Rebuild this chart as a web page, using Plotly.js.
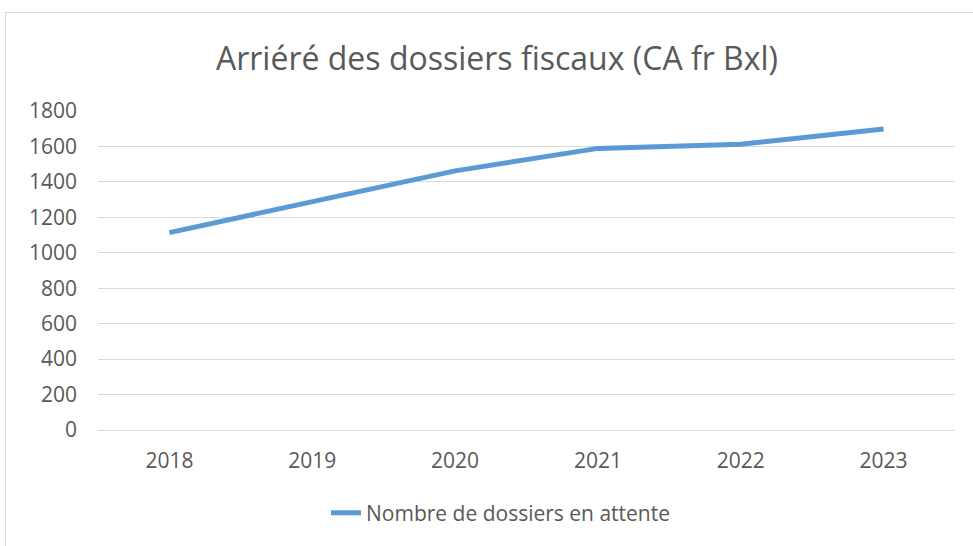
<!DOCTYPE html>
<html>
<head>
<meta charset="utf-8">
<script src="https://cdn.plot.ly/plotly-3.0.1.min.js"></script>
<style>
  html, body { margin: 0; padding: 0; background: #ffffff; }
  #wrap { position: relative; width: 973px; height: 546px; overflow: hidden; }
  #chart { position: absolute; left: 0; top: 0; width: 973px; height: 546px; }
  #frame { position: absolute; left: 5px; top: 12px; width: 1000px; height: 600px;
           border: 1px solid #d9d9d9; pointer-events: none; box-sizing: border-box; }
</style>
</head>
<body>
<div id="wrap">
  <div id="chart"></div>
  <div id="frame"></div>
</div>
<script>
const years = ['2018', '2019', '2020', '2021', '2022', '2023'];
const pendingCases = [1114, 1290, 1462, 1589, 1613, 1698];
const yTicks = [0, 200, 400, 600, 800, 1000, 1200, 1400, 1600, 1800];
const seriesName = 'Nombre de dossiers en attente';
const chartTitle = 'Arriéré des dossiers fiscaux (CA fr Bxl)';

const FONT = '"Open Sans", "Liberation Sans", sans-serif';
const TXT = '#595959';

const trace = {
  x: years,
  y: pendingCases,
  type: 'scatter',
  mode: 'lines',
  name: seriesName,
  line: { color: '#5B9BD5', width: 5 },
  hoverinfo: 'x+y'
};

const layout = {
  width: 973,
  height: 546,
  paper_bgcolor: 'rgba(0,0,0,0)',
  plot_bgcolor: '#ffffff',
  margin: { l: 98, r: 18, t: 111, b: 116, pad: 0 },
  title: {
    text: chartTitle,
    font: { family: FONT, size: 32, color: TXT },
    x: 497 / 973, xref: 'container', xanchor: 'center',
    y: 1 - 59 / 546, yref: 'container', yanchor: 'middle'
  },
  xaxis: {
    type: 'category',
    range: [-0.5, 5.5],
    showgrid: false,
    showline: true,
    linecolor: '#d9d9d9',
    linewidth: 1,
    ticks: '',
    ticklabelstandoff: 12,
    tickfont: { family: FONT, size: 21, color: TXT },
    fixedrange: true
  },
  yaxis: {
    range: [0, 1800],
    tickvals: yTicks,
    ticktext: yTicks.map(String),
    showgrid: true,
    gridcolor: '#d9d9d9',
    gridwidth: 1,
    zeroline: true,
    zerolinecolor: '#d9d9d9',
    zerolinewidth: 1,
    showline: false,
    ticks: '',
    ticklabelstandoff: 20,
    tickfont: { family: FONT, size: 21, color: TXT },
    fixedrange: true
  },
  showlegend: true,
  legend: {
    orientation: 'h',
    xref: 'container', yref: 'container',
    x: 501 / 973, xanchor: 'center',
    y: 1 - 513 / 546, yanchor: 'middle',
    font: { family: FONT, size: 21, color: TXT },
    bgcolor: 'rgba(0,0,0,0)'
  }
};

Plotly.newPlot('chart', [trace], layout, { displayModeBar: false, staticPlot: false });
</script>
</body>
</html>
